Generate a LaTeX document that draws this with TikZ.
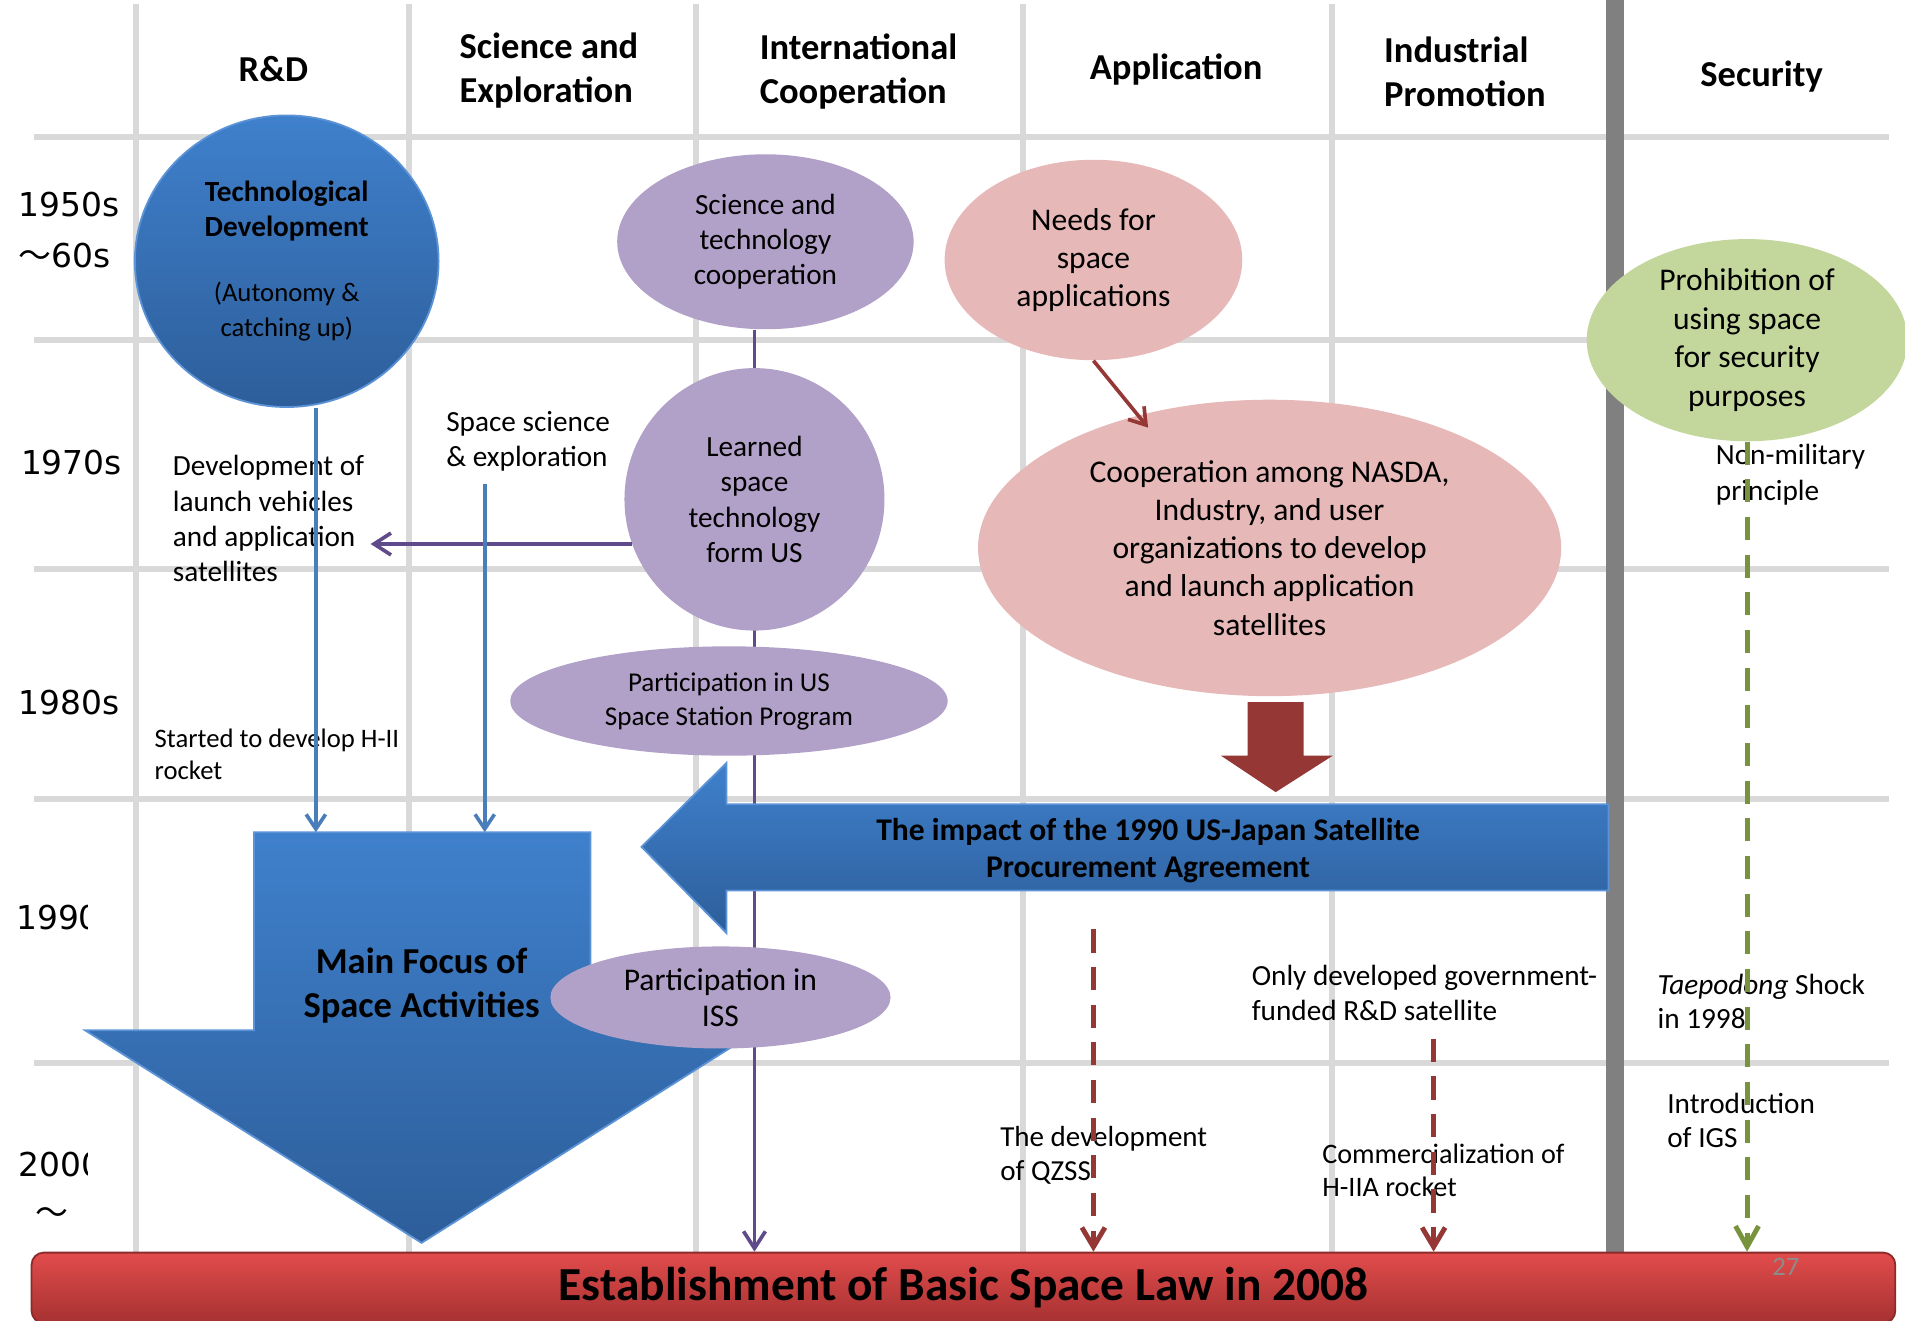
\documentclass[tikz,border=0pt]{standalone}
\usepackage{fontspec}
\setmainfont{Carlito}
\newfontfamily\yearfont{DejaVu Sans}
\newfontfamily\cjk{Noto Sans CJK JP}
\usetikzlibrary{shapes.geometric,arrows.meta}
\pgfdeclarelayer{background}
\pgfsetlayers{background,main}

\definecolor{gridgray}{HTML}{D9D9D9}
\definecolor{bargray}{HTML}{808080}
\definecolor{blueA}{HTML}{3F80CC}
\definecolor{blueB}{HTML}{2D5E9A}
\definecolor{blueEdge}{HTML}{5B93D6}
\definecolor{blueLine}{HTML}{4A7EBB}
\definecolor{purpleFill}{HTML}{B1A0C7}
\definecolor{purpleLine}{HTML}{5F4B8B}
\definecolor{pinkFill}{HTML}{E6B9B8}
\definecolor{darkRed}{HTML}{953735}
\definecolor{greenFill}{HTML}{C3D69B}
\definecolor{greenLine}{HTML}{77933C}
\definecolor{lawA}{HTML}{E24C4C}
\definecolor{lawB}{HTML}{A63131}
\definecolor{pagegray}{HTML}{8C8C8C}

\begin{document}
\begin{tikzpicture}[x=0.2mm,y=-0.2mm]

    \def\px{0.2mm}% one unit of the slide

    \newcommand{\setfs}[2]
    {\fontsize{#1}{#2}\selectfont}

    \tikzset{
      colhead/.style={inner sep=0pt, font=\setfs{17.1}{20.5}\bfseries},
      yearlbl/.style={inner sep=0pt, anchor=west, align=left, font=\yearfont\setfs{15.4}{23.9}},
      note/.style={inner sep=0pt, anchor=west, align=left, font=\setfs{13.7}{16.5}},
      blob/.style={ellipse, inner sep=0pt, align=center, font=\setfs{13.7}{16.5}},
      purpleblob/.style={blob, fill=purpleFill},
      pinkblob/.style={blob, fill=pinkFill, font=\setfs{14.8}{17.9}},
      bluegrad/.style={top color=blueA, bottom color=blueB, draw=blueEdge, line width=0.3mm},
      gridline/.style={draw=gridgray, line width=1mm},
      purpleline/.style={draw=purpleLine, line width=0.6mm, -{Straight Barb[length=2.8mm,width=3.6mm]}},
      bluearrow/.style={draw=blueLine, line width=0.6mm, -{Straight Barb[length=2.4mm,width=3.2mm]}},
      redarrow/.style={draw=darkRed, line width=0.6mm, -{Straight Barb[length=2.6mm,width=3.4mm]}},
      reddash/.style={draw=darkRed, line width=0.8mm, dash pattern=on 3.8mm off 2.4mm, -{Straight Barb[length=3.2mm,width=3.8mm]}},
      greendash/.style={draw=greenLine, line width=0.8mm, dash pattern=on 3.8mm off 2.4mm, -{Straight Barb[length=3.4mm,width=3.8mm]}},
      lawbar/.style={rectangle, rounded corners=2mm, inner sep=0pt, top color=lawA, bottom color=lawB, draw=lawB!85!black, line width=0.3mm, font=\setfs{22.2}{26}\bfseries}
    }

    \useasboundingbox (0,0) rectangle (1568,1087);
    \clip (0,0) rectangle (1568,1087);

    % Law bar
    \node[lawbar, minimum width=1534*\px, minimum height=58*\px] (law) at (793,1060) {Establishment of Basic Space Law in 2008};
    \node[inner sep=0pt, text=pagegray, font=\setfs{12.5}{15}] (pgnum) at (1470,1043) {27};

    % Grid
    \begin{pgfonlayer}{background}
      \foreach \y in {113,280,468,658,875}
        \draw[gridline] (28,\y) -- (1555,\y);
      \foreach \x in {112,337,573,842,1096}
        \draw[gridline] (\x,3) -- (\x,1032);
      \fill[bargray] (1322,0) rectangle (1337,1032);
    \end{pgfonlayer}

    % Column heads
    \node[colhead] (hrd) at (225,57) {R\&D};
    \node[colhead, anchor=west, align=left] (hsci) at (378,58) {Science and\\Exploration};
    \node[colhead, anchor=west, align=left] (hint) at (625,59) {International\\Cooperation};
    \node[colhead] (happ) at (968,57) {Application};
    \node[colhead, anchor=west, align=left] (hind) at (1139,59) {Industrial\\Promotion};
    \node[colhead] (hsec) at (1450,63) {Security};

    % Years
    \node[yearlbl] (y50) at (15,189) {1950s\\{\cjk ～}60s};
    \node[yearlbl] (y70) at (17,381) {1970s};
    \node[yearlbl] (y80) at (15,578) {1980s};
    \begin{scope}
      \clip (0,700) rectangle (72,800);
      \node[yearlbl] (y90) at (13,755) {1990s};
    \end{scope}
    \begin{scope}
      \clip (0,900) rectangle (72,1030);
      \node[yearlbl, font=\yearfont\setfs{15.4}{22.7}] (y00) at (15,978) {2000s\\\hspace*{8pt}{\cjk ～}};
    \end{scope}

    % Main focus
    \fill[bluegrad] (209,685) -- (486,685) -- (486,848) -- (624,848) -- (347,1023) -- (70,848) -- (209,848) -- cycle;
    \coordinate (focusL) at (260,685);
    \coordinate (focusR) at (399,685);
    \node[inner sep=0pt, align=center, font=\setfs{17.1}{20.5}\bfseries] (focus) at (347,811) {Main Focus of\\Space Activities};

    % R&D
    \node[blob, bluegrad, minimum width=250*\px, minimum height=240*\px] (tech) at (236,215)
      {\textbf{Technological}\\\textbf{Development}\\[14pt]{\fontsize{12.5}{15}\selectfont(Autonomy \&}\\{\fontsize{12.5}{15}\selectfont catching up)}};

    % International cooperation
    \node[purpleblob, minimum width=244*\px, minimum height=144*\px] (scicoop) at (630,199) {Science and\\technology\\cooperation};
    \node[purpleblob, minimum width=214*\px, minimum height=216*\px] (learned) at (621,411) {Learned\\space\\technology\\form US};
    \node[purpleblob, font=\setfs{12.7}{15.9}, minimum width=360*\px, minimum height=90*\px] (usstation) at (600,577) {Participation in US\\Space Station Program};
    \node[purpleblob, font=\setfs{14.8}{17}, minimum width=280*\px, minimum height=84*\px] (iss) at (593,821) {Participation in\\ISS};
    \begin{pgfonlayer}{background}
      \draw[purpleline] (learned |- scicoop.south) -- (learned |- law.north);
    \end{pgfonlayer}

    % Application
    \node[pinkblob, minimum width=245*\px, minimum height=165*\px] (needs) at (900,214) {Needs for\\space\\applications};
    \node[pinkblob, minimum width=480*\px, minimum height=244*\px] (coop) at (1045,451)
      {Cooperation among NASDA,\\Industry, and user\\organizations to develop\\and launch application\\satellites};
    \coordinate (cooptip) at (945,352);
    \draw[redarrow] (needs.south) -- (cooptip);
    \fill[darkRed] (1027,578) -- (1073,578) -- (1073,622) -- (1097,622) -- (1050,652) -- (1005,622) -- (1027,622) -- cycle;

    % Security
    \node[blob, fill=greenFill, font=\setfs{14.8}{18.1}, minimum width=264*\px, minimum height=164*\px] (prohib) at (1438,280) {Prohibition of\\using space\\for security\\purposes};

    % Notes
    \node[note] (devlv) at (142,427) {Development of\\launch vehicles\\and application\\satellites};
    \node[note] (spacesci) at (367,363) {Space science\\\& exploration};
    \node[note, font=\setfs{12.5}{14.8}] (hii) at (127,621) {Started to develop H-II\\rocket};
    \node[note, font=\setfs{13.6}{15.9}] (qzss) at (823,951) {The development\\of QZSS};
    \node[note] (onlydev) at (1030,817) {Only developed government-\\funded R\&D satellite};
    \node[note, font=\setfs{13.2}{15.4}] (commerc) at (1088,963) {Commercialization of\\H-IIA rocket};
    \node[note, font=\setfs{13.7}{17}] (nonmil) at (1412,391) {Non-military\\principle};
    \node[note, font=\setfs{13.7}{15.9}] (taepo) at (1364,824) {\textit{Taepodong} Shock\\in 1998};
    \node[note, font=\setfs{13.7}{15.9}] (igs) at (1372,922) {Introduction\\of IGS};

    % Arrows into main focus
    \coordinate[xshift=1mm] (devtip) at (devlv.east);
    \draw[purpleline] (learned.200) -- (learned.200 -| devtip);
    \draw[bluearrow] (focusL |- tech.south) -- (focusL);
    \draw[bluearrow, shorten <=2mm] (focusR |- spacesci.south) -- (focusR);

    % 1990 agreement
    \fill[bluegrad] (1324,662) -- (598,662) -- (598,628) -- (528,697) -- (598,768) -- (598,733) -- (1324,733) -- cycle;
    \node[inner sep=0pt, align=center, font=\setfs{14.8}{17.6}\bfseries] (impact) at (945,700) {The impact of the 1990 US-Japan Satellite\\Procurement Agreement};

    % Dashed lines down to the law
    \coordinate (qzsstop) at (900,765);
    \coordinate (h2atop) at (1180,855);
    \draw[reddash] (qzsstop) -- (qzsstop |- law.north);
    \draw[reddash] (h2atop) -- (h2atop |- law.north);
    \draw[greendash] (prohib.south) -- (prohib.south |- law.north);

\end{tikzpicture}
\end{document}
